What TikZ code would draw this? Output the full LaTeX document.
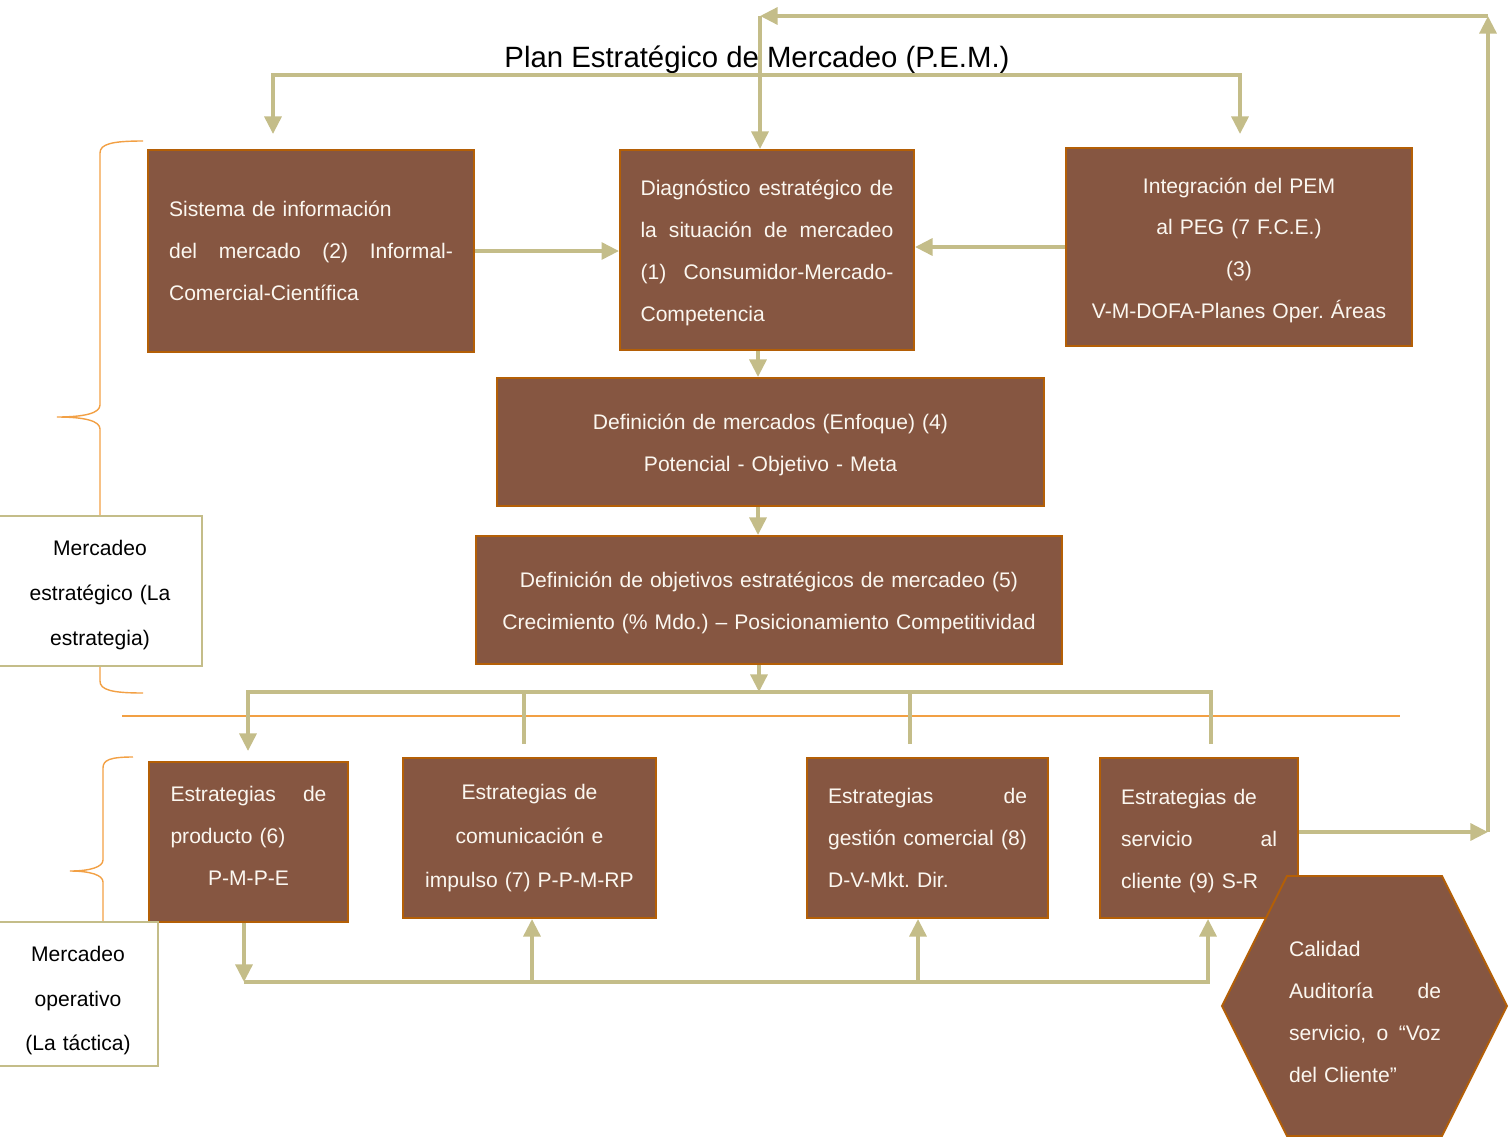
\documentclass[tikz,border=0pt]{standalone}
\usepackage{fontspec}
\setmainfont{Liberation Sans}
\frenchspacing
\usetikzlibrary{arrows.meta,calc}

\definecolor{marron}{HTML}{865641}
\definecolor{borde}{HTML}{B45F06}
\definecolor{caqui}{HTML}{C4BD89}
\definecolor{naranja}{HTML}{F2A044}
\definecolor{crema}{HTML}{FBF7F0}

\begin{document}
\begin{tikzpicture}[x=0.02cm, y=-0.02cm,
    >={Triangle[length=10pt,width=9.5pt]},
    caja/.style={draw=borde, line width=1.1pt, fill=marron, text=crema, inner sep=0pt,
        font=\fontsize{12}{23.8}\selectfont},
    etiqueta/.style={draw=caqui, line width=1.1pt, fill=white, inner sep=0pt, align=center,
        font=\fontsize{12}{25.6}\selectfont},
    linea/.style={draw=caqui, line width=2.3pt},
    flecha/.style={linea, ->},
    llave/.style={draw=naranja, line width=0.8pt}]
    \useasboundingbox (0,0) rectangle (1511,1136);

    % Llaves y separador
    \draw[llave] (143,141) .. controls (112,141) and (100,144) .. (100,153) -- (100,405)
        .. controls (100,413) and (85,417) .. (57,417) .. controls (85,417) and (100,421) .. (100,429)
        -- (100,681) .. controls (100,690) and (112,693) .. (143,693);
    \draw[llave] (133,757) .. controls (110,757) and (103,760) .. (103,768) -- (103,860)
        .. controls (103,867) and (90,871) .. (70,871) .. controls (90,871) and (103,875) .. (103,882)
        -- (103,922);
    \draw[llave] (122,716) -- (1400,716);

    % Titulo
    \node[font=\fontsize{16.7}{20}\selectfont] (titulo) at (757,60) {Plan Estratégico de Mercadeo (P.E.M.)};

    % Mercadeo estrategico
    \node[caja, minimum width=6.52cm, minimum height=4.04cm, text width=5.68cm, align=left] (sis) at (311,251)
        {Sistema de información\\ del\hfill mercado\hfill (2)\hfill Informal-\\ Comercial-Científica};
    \node[caja, minimum width=5.88cm, minimum height=4cm, text width=5.06cm, align=left] (diag) at (767,250)
        {\rule{0pt}{0.42cm}Diagnóstico\hfill estratégico\hfill de\\ la\hfill situación\hfill de\hfill mercadeo\\
         (1)\hfill Consumidor-Mercado-\\ Competencia};
    \node[caja, minimum width=6.92cm, minimum height=3.96cm, text width=6.5cm, align=center] (integ) at (1239,247)
        {\rule{0pt}{0.44cm}Integración del PEM\\ al PEG (7 F.C.E.)\\ (3)\\ V-M-DOFA-Planes Oper. Áreas};
    \node[caja, minimum width=10.94cm, minimum height=2.56cm, text width=10cm, align=center] (defm) at (770.5,442)
        {\rule{0pt}{0.43cm}Definición de mercados (Enfoque) (4)\\ Potencial - Objetivo - Meta};
    \node[caja, minimum width=11.72cm, minimum height=2.56cm, text width=11.2cm, align=center] (defo) at (769,600)
        {\rule{0pt}{0.43cm}Definición de objetivos estratégicos de mercadeo (5)\\ Crecimiento (\% Mdo.) – Posicionamiento Competitividad};

    % Mercadeo operativo
    \node[caja, minimum width=3.98cm, minimum height=3.2cm, text width=3.12cm, align=left] (prod) at (248.5,842)
        {Estrategias\hfill de\\ producto (6)\\ \mbox{}\hfill P-M-P-E\hfill\rule[-0.24cm]{0pt}{0pt}\mbox{}};
    \node[caja, minimum width=5.06cm, minimum height=3.2cm, text width=4.7cm, align=center,
        font=\fontsize{12}{24.9}\selectfont] (com) at (529.5,838)
        {Estrategias de\\ comunicación e\\ impulso (7) P-P-M-RP};
    \node[caja, minimum width=4.82cm, minimum height=3.2cm, text width=3.98cm, align=left] (gest) at (927.5,838)
        {Estrategias\hfill de\\ gestión\hfill comercial\hfill (8)\\ D-V-Mkt. Dir.};
    \node[caja, minimum width=3.96cm, minimum height=3.2cm, text width=3.12cm, align=left] (serv) at (1199,838)
        {\rule{0pt}{0.43cm}Estrategias de\\ servicio\hfill al\\ cliente (9) S-R};

    % Hexagono de calidad
    \filldraw[fill=marron, draw=borde, line width=1.1pt] (1287,876) -- (1442,876) -- (1507,1006)
        -- (1442,1136) -- (1287,1136) -- (1222,1006) -- cycle;
    \node[text=crema, inner sep=0pt, text width=3.04cm, align=left, font=\fontsize{12}{23.8}\selectfont] (calidad) at (1365,1012)
        {Calidad\\ Auditoría\hfill de\\ servicio,\hfill o\hfill “Voz\\ del Cliente”};

    % Etiquetas
    \node[etiqueta, minimum width=4.08cm, minimum height=3cm, text width=3.7cm] (estrat) at (100,591)
        {\rule{0pt}{0.47cm}Mercadeo\\ estratégico (La\\ estrategia)};
    \node[etiqueta, minimum width=3.2cm, minimum height=2.88cm, text width=3cm,
        font=\fontsize{12}{25.2}\selectfont] (oper) at (78,994)
        {\rule{0pt}{0.57cm}Mercadeo\\ operativo\\ (La táctica)};

    % Plan: reparto superior
    \coordinate (bI) at (273,75);
    \coordinate (bD) at (1240,75);
    \draw[linea, <->, shorten <=0.3cm, shorten >=0.26cm] (bI |- sis.north) -- (bI) -- (bD) -- (bD |- integ.north);

    % Retroalimentacion del servicio
    \coordinate (lazo) at (1488,832);
    \coordinate (esq) at (1488,16);
    \coordinate (cima) at (760,16);
    \draw[flecha] (serv.east |- lazo) -- (lazo);
    \draw[flecha] (lazo) -- (esq);
    \draw[flecha] (esq) -- (cima);
    \draw[flecha] (cima) -- (cima |- diag.north);

    % Flujo central
    \draw[flecha] (sis.east) -- (sis.east -| diag.west);
    \draw[flecha] (integ.west) -- (integ.west -| diag.east);
    \coordinate (eje) at (758,0);
    \draw[flecha] (diag.south -| eje) -- (defm.north -| eje);
    \draw[flecha] (defm.south -| eje) -- (defo.north -| eje);

    % Reparto hacia las estrategias
    \coordinate (reparto) at (759,692);
    \coordinate (r1) at (248,692);
    \coordinate (r2) at (524,744);
    \coordinate (r3) at (910,744);
    \coordinate (r4) at (1211,744);
    \draw[flecha] (defo.south -| reparto) -- (reparto);
    \draw[linea, ->, shorten >=0.2cm] (r4) -- (r4 |- r1) -- (r1) -- (r1 |- prod.north);
    \draw[linea] (r2) -- (r2 |- r1);
    \draw[linea] (r3) -- (r3 |- r1);

    % Retorno inferior
    \coordinate (b0) at (244,982);
    \coordinate (b1) at (532,982);
    \coordinate (b2) at (918,982);
    \coordinate (b3) at (1208,982);
    \draw[flecha] (prod.south -| b0) -- (b0);
    \draw[flecha] (b0) -| (serv.south -| b3);
    \draw[flecha] (b1) -- (b1 |- com.south);
    \draw[flecha] (b2) -- (b2 |- gest.south);
\end{tikzpicture}
\end{document}
